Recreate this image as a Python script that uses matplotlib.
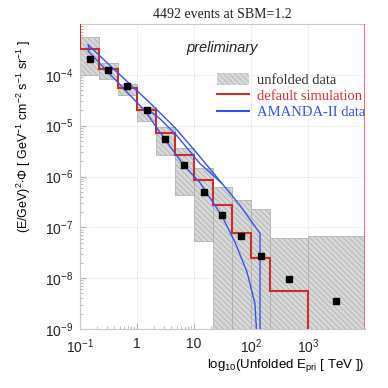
import matplotlib
matplotlib.use("Agg")
import matplotlib.pyplot as plt
import numpy as np
from matplotlib.patches import Patch
from matplotlib.lines import Line2D

# bin edges in TeV (1/3 decade up to ~200 TeV, then wide bins)
edges = [0.1, 0.215, 0.464, 1.0, 2.15, 4.64, 10.0, 21.5, 46.4, 100.0, 215.0, 1000.0, 10000.0]
centers = [0.147, 0.316, 0.681, 1.47, 3.16, 6.81, 14.7, 31.6, 68.1, 147.0, 464.0, 3162.0]

# unfolded data (points) and its error boxes
flux = [2.04e-4, 1.26e-4, 6.0e-5, 2.04e-5, 5.4e-6, 1.66e-6, 4.9e-7, 1.74e-7, 6.9e-8, 2.7e-8, 9.5e-9, 3.5e-9]
box_hi = [5.6e-4, 1.72e-4, 6.7e-5, 2.36e-5, 9.5e-6, 3.7e-6, 1.44e-6, 6.1e-7, 3.5e-7, 2.25e-7, 6.1e-8, 6.7e-8]
box_lo = [1.0e-4, 8.4e-5, 4.1e-5, 1.25e-5, 2.6e-6, 4.4e-7, 5.3e-8, 1e-10, 1e-10, 1e-10, 1e-10, 1e-10]

# default simulation histogram
sim = [3.2e-4, 1.32e-4, 5.4e-5, 2.04e-5, 7.2e-6, 2.7e-6, 8.7e-7, 2.8e-7, 7.9e-8, 2.45e-8, 5.6e-9, 1e-10]

# AMANDA-II band (upper edge, inner line, lower edge)
amanda_up_x = [0.138, 1.69, 4.65, 10.4, 21.5, 64.1, 144.0, 144.0]
amanda_up_y = [3.9e-4, 2.8e-5, 9.1e-6, 3.2e-6, 1.2e-6, 2.7e-7, 7.6e-8, 1e-10]
amanda_mid_x = [1.50, 2.53, 4.65, 12.7, 31.0]
amanda_mid_y = [2.15e-5, 1.37e-5, 6.97e-6, 1.8e-6, 7.3e-7]
amanda_lo_x = [0.138, 1.38, 3.09, 6.41, 12.7, 31.0, 52.4, 85.1, 117.0, 140.0]
amanda_lo_y = [2.95e-4, 1.95e-5, 5.4e-6, 1.74e-6, 7.6e-7, 1.66e-7, 5.1e-8, 1.32e-8, 3.2e-9, 1e-10]

xticks = [0.1, 1, 10, 100, 1000]
xticklabels = ["$10^{-1}$", "1", "10", "$10^{2}$", "$10^{3}$"]
yticks = [1e-9, 1e-8, 1e-7, 1e-6, 1e-5, 1e-4]
yticklabels = ["$10^{-9}$", "$10^{-8}$", "$10^{-7}$", "$10^{-6}$", "$10^{-5}$", "$10^{-4}$"]

plt.rcParams["font.family"] = ["Liberation Sans", "DejaVu Sans"]
plt.rcParams["mathtext.fontset"] = "custom"
plt.rcParams["mathtext.rm"] = "Liberation Sans"
plt.rcParams["mathtext.it"] = "Liberation Sans:italic"
plt.rcParams["mathtext.bf"] = "Liberation Sans:bold"
plt.rcParams["hatch.linewidth"] = 0.5

red = "#cc2b2b"
blue = "#3355ee"
grey_line = "#c8c8c8"
hatch = "\\\\\\\\\\\\"

fig = plt.figure(figsize=(3.88, 3.88), dpi=100)
ax = fig.add_axes([80 / 388, 59 / 388, 285 / 388, 305 / 388])
ax.set_xscale("log")
ax.set_yscale("log")
ax.set_xlim(0.1, 1e4)
ax.set_ylim(1e-9, 1e-3)

# error boxes
lefts = np.array(edges[:-1])
widths = np.diff(edges)
ax.bar(lefts, np.array(box_hi) - np.array(box_lo), width=widths, bottom=box_lo,
       align="edge", facecolor="#d8d8d8", edgecolor="#a8a8a8", hatch=hatch,
       linewidth=0.5, zorder=2)

# simulation
ax.stairs(sim, edges, baseline=None, color=red, linewidth=1.5, zorder=3)
ax.plot([edges[0], edges[0]], [sim[0], 1e-3], color=red, linewidth=1.5, zorder=3)
ax.axvline(1e4, color="#f07070", linewidth=1.5, zorder=3)

# AMANDA-II band
ax.plot(amanda_up_x, amanda_up_y, color=blue, linewidth=1.0, zorder=4)
ax.plot(amanda_mid_x, amanda_mid_y, color=blue, linewidth=1.0, zorder=4)
ax.plot(amanda_lo_x, amanda_lo_y, color=blue, linewidth=1.0, zorder=4)
ax.plot([amanda_up_x[0], amanda_lo_x[0]], [amanda_up_y[0], amanda_lo_y[0]], color=blue, linewidth=1.0, zorder=4)

# unfolded points
ax.plot(centers, flux, "s", color="black", markersize=4, zorder=5)

# axes style
for s in ax.spines.values():
    s.set_color(grey_line)
    s.set_linewidth(0.8)
ax.spines["right"].set_visible(False)
ax.set_xticks(xticks)
ax.set_xticklabels(xticklabels)
ax.set_yticks(yticks)
ax.set_yticklabels(yticklabels)
ax.tick_params(which="both", direction="in", color="#b0b0b0", labelsize=10, labelcolor="#222222")
ax.tick_params(which="major", length=4)
ax.tick_params(which="minor", length=2)
ax.tick_params(axis="x", pad=6)
ax.tick_params(axis="y", pad=5)
ax.grid(which="major", color="#d8d8d8", linestyle=":", linewidth=0.7, zorder=0)
ax.set_axisbelow(True)

ax.set_ylabel(r"(E/GeV)$^{2}$$\cdot\Phi$ [ GeV$^{-1}$ cm$^{-2}$ s$^{-1}$ sr$^{-1}$ ]", fontsize=9)
ax.yaxis.set_label_coords(-0.165, 0.63)
ax.set_xlabel(r"log$_{10}$(Unfolded E$_{\mathrm{pri}}$ [ TeV ])", fontsize=9.5, loc="right", labelpad=1)

ax.text(0.5, 0.92, "preliminary", transform=ax.transAxes, style="italic",
        fontsize=10.5, ha="center", va="center", color="#222222")

fig.text(222 / 388, 1 - 14 / 388, "4492 events at SBM=1.2", family="Liberation Serif",
         fontsize=10, ha="center", va="center", color="#222222")

handles = [Patch(facecolor="#d8d8d8", edgecolor="#b0b0b0", hatch=hatch, linewidth=0),
           Line2D([], [], color=red, linewidth=1.5),
           Line2D([], [], color=blue, linewidth=1.5)]
labels = ["unfolded data", "default simulation", "AMANDA-II data"]
leg = ax.legend(handles, labels, loc="upper right", bbox_to_anchor=(1.02, 0.86),
                frameon=False, prop={"family": "Liberation Serif", "size": 10.5},
                handlelength=2.2, handleheight=0.9, handletextpad=0.5, labelspacing=0.15,
                borderaxespad=0)
for t, c in zip(leg.get_texts(), ["#333333", "#e03030", "#3355ee"]):
    t.set_color(c)

fig.savefig("out.png", dpi=100)
